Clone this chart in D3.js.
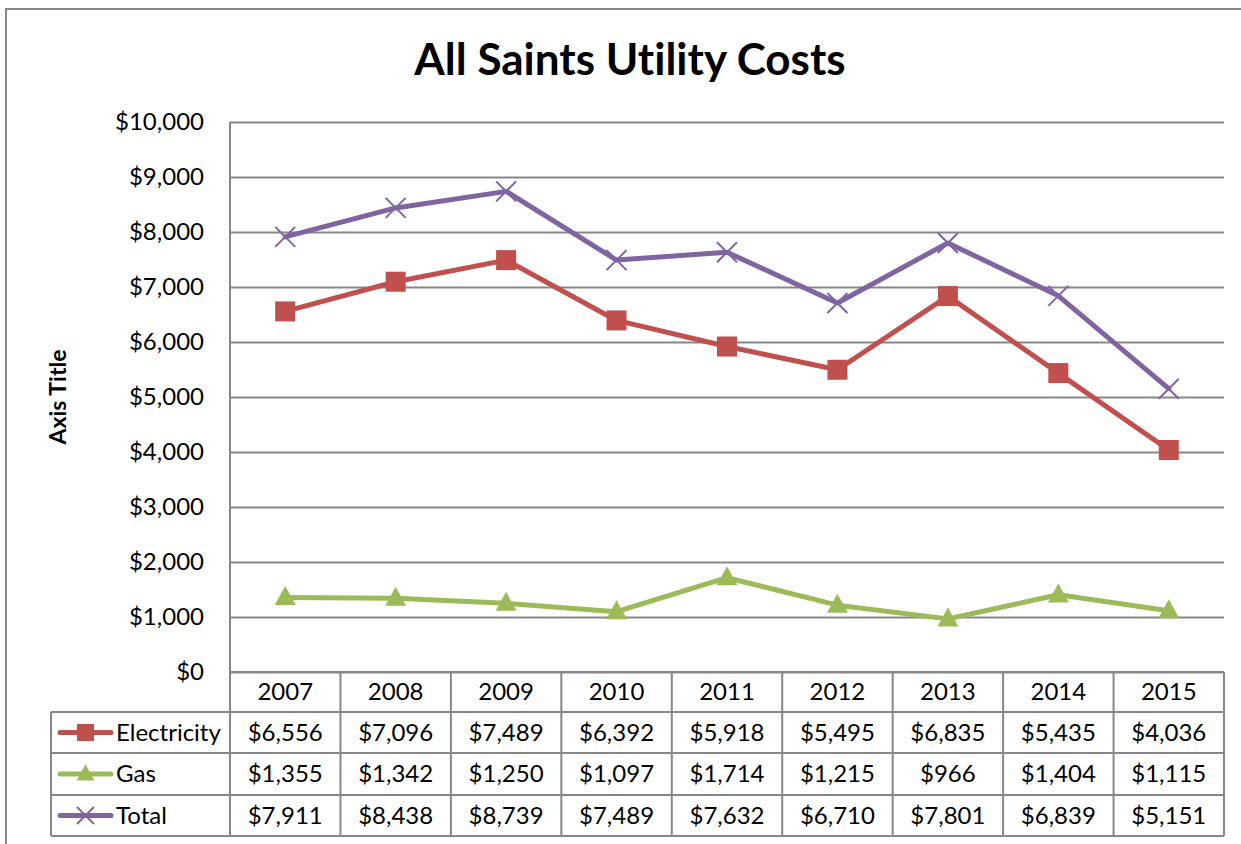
<!DOCTYPE html>
<html>
<head>
<meta charset="utf-8">
<script src="https://cdn.jsdelivr.net/npm/d3@7"></script>
<style>
  body { margin: 0; background: #fff; }
  svg { display: block; font-family: Lato, "Open Sans", sans-serif; font-variant-ligatures: none; }
</style>
</head>
<body>
<div id="chart"></div>
<script>
// chart data
var years = ["2007", "2008", "2009", "2010", "2011", "2012", "2013", "2014", "2015"];
var electricity = [6556, 7096, 7489, 6392, 5918, 5495, 6835, 5435, 4036];
var gas = [1355, 1342, 1250, 1097, 1714, 1215, 966, 1404, 1115];
var total = [7911, 8438, 8739, 7489, 7632, 6710, 7801, 6839, 5151];
var yTicks = [0, 1000, 2000, 3000, 4000, 5000, 6000, 7000, 8000, 9000, 10000];

var series = [
  { name: "Electricity", values: electricity, color: "#C0504D", marker: "square" },
  { name: "Gas", values: gas, color: "#9BBB59", marker: "triangle" },
  { name: "Total", values: total, color: "#8064A2", marker: "cross" }
];

var W = 1241, H = 844;
var plotLeft = 230, plotRight = 1224, plotTop = 122, plotBottom = 672;
var gridColor = "#878787";
var fontSize = "24px";

var svg = d3.select("#chart").append("svg").attr("width", W).attr("height", H);

// outer chart border (runs off the right / bottom of the picture)
svg.append("rect")
  .attr("x", 6).attr("y", 9).attr("width", 1260).attr("height", 860)
  .attr("fill", "none").attr("stroke", gridColor).attr("stroke-width", 2);

// title
svg.append("text")
  .attr("x", 630).attr("y", 75)
  .attr("text-anchor", "middle")
  .style("font-size", "44px").style("font-weight", "bold")
  .text("All Saints Utility Costs");

// axis title
svg.append("text")
  .attr("transform", "translate(66,397) rotate(-90)")
  .attr("text-anchor", "middle")
  .style("font-size", "23px").style("font-weight", "bold")
  .text("Axis Title");

var x = d3.scaleBand().domain(years).range([plotLeft, plotRight]);
var y = d3.scaleLinear().domain([0, 10000]).range([plotBottom, plotTop]);

// y axis + gridlines
var yAxis = svg.append("g")
  .attr("transform", "translate(" + plotLeft + ",0)")
  .call(d3.axisLeft(y).tickValues(yTicks).tickFormat(d3.format("$,")).tickSize(-(plotRight - plotLeft)).tickPadding(26));
yAxis.select(".domain").remove();
yAxis.selectAll(".tick line").attr("stroke", gridColor).attr("stroke-width", 2);
yAxis.selectAll(".tick text")
  .attr("fill", "#000")
  .style("font-size", fontSize)
  .style("font-family", "Lato, 'Open Sans', sans-serif");

// data table geometry
var rowY = [672, 712, 753, 795, 836];
var tableLeft = 51;

var table = svg.append("g").attr("stroke", gridColor).attr("stroke-width", 2);
// vertical axis line down through the table
table.append("line").attr("x1", plotLeft).attr("x2", plotLeft).attr("y1", plotTop).attr("y2", rowY[4]);
// column separators
years.forEach(function (yr) {
  var xr = x(yr) + x.bandwidth();
  table.append("line").attr("x1", xr).attr("x2", xr).attr("y1", rowY[0]).attr("y2", rowY[4]);
});
// horizontal rules
table.append("line").attr("x1", plotLeft).attr("x2", plotRight).attr("y1", rowY[0]).attr("y2", rowY[0]);
[1, 2, 3, 4].forEach(function (i) {
  table.append("line").attr("x1", tableLeft).attr("x2", plotRight).attr("y1", rowY[i]).attr("y2", rowY[i]);
});
table.append("line").attr("x1", tableLeft).attr("x2", tableLeft).attr("y1", rowY[1]).attr("y2", rowY[4]);

// header years
svg.append("g").selectAll("text").data(years).enter().append("text")
  .attr("x", function (d) { return x(d) + x.bandwidth() / 2; })
  .attr("y", (rowY[0] + rowY[1]) / 2)
  .attr("dy", "0.35em")
  .attr("text-anchor", "middle")
  .style("font-size", fontSize)
  .text(function (d) { return d; });

var fmt = d3.format("$,");

function drawMarker(g, type, color, cx, cy, scale) {
  scale = scale || 1;
  if (type === "square") {
    var s = 20 * scale;
    g.append("rect").attr("x", cx - s / 2).attr("y", cy - s / 2).attr("width", s).attr("height", s)
      .attr("fill", color);
  } else if (type === "triangle") {
    var w = 21 * scale, h = 19 * scale;
    g.append("path")
      .attr("d", "M" + cx + "," + (cy - h * 0.6) + "L" + (cx + w / 2) + "," + (cy + h * 0.4) + "L" + (cx - w / 2) + "," + (cy + h * 0.4) + "Z")
      .attr("fill", color);
  } else {
    var r = 10 * scale;
    g.append("path")
      .attr("d", "M" + (cx - r) + "," + (cy - r) + "L" + (cx + r) + "," + (cy + r) + "M" + (cx - r) + "," + (cy + r) + "L" + (cx + r) + "," + (cy - r))
      .attr("stroke", color).attr("stroke-width", 2).attr("fill", "none");
  }
}

var line = d3.line()
  .x(function (d, i) { return x(years[i]) + x.bandwidth() / 2; })
  .y(function (d) { return y(d); });

series.forEach(function (s, si) {
  var g = svg.append("g");
  g.append("path").datum(s.values)
    .attr("d", line)
    .attr("fill", "none").attr("stroke", s.color).attr("stroke-width", 5)
    .attr("stroke-linejoin", "round").attr("stroke-linecap", "round");
  s.values.forEach(function (v, i) {
    drawMarker(g, s.marker, s.color, x(years[i]) + x.bandwidth() / 2, y(v));
  });

  // table row
  var cy = (rowY[si + 1] + rowY[si + 2]) / 2;
  var lg = svg.append("g");
  lg.append("line").attr("x1", 60).attr("x2", 111).attr("y1", cy).attr("y2", cy)
    .attr("stroke", s.color).attr("stroke-width", 5).attr("stroke-linecap", "round");
  drawMarker(lg, s.marker, s.color, 85.5, cy, 0.85);
  lg.append("text").attr("x", 116).attr("y", cy).attr("dy", "0.35em")
    .style("font-size", fontSize).text(s.name);
  lg.selectAll("text.val").data(s.values).enter().append("text")
    .attr("class", "val")
    .attr("x", function (d, i) { return x(years[i]) + x.bandwidth() / 2; })
    .attr("y", cy).attr("dy", "0.35em")
    .attr("text-anchor", "middle")
    .style("font-size", fontSize)
    .text(function (d) { return fmt(d); });
});
</script>
</body>
</html>
